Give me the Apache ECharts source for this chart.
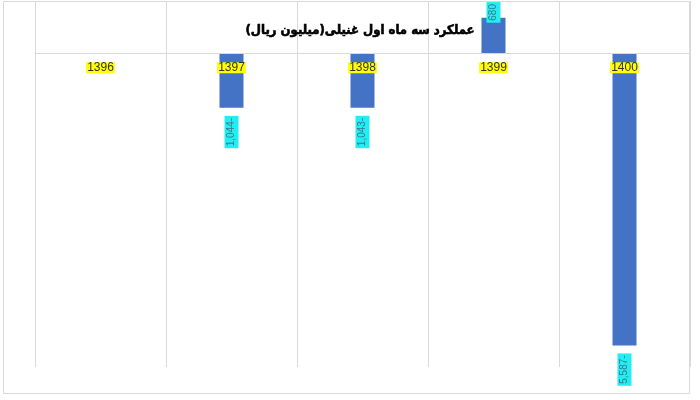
<!DOCTYPE html>
<html>
<head>
<meta charset="utf-8">
<script src="https://cdn.jsdelivr.net/npm/echarts@6/dist/echarts.min.js"></script>
<style>
html,body{margin:0;padding:0;background:#fff;}
#c{width:700px;height:400px;}
</style>
</head>
<body>
<div id="c"></div>
<script>
const categories = ['1396', '1397', '1398', '1399', '1400'];
const values = [null, -1044, -1043, 680, -5587];
const titleText = '\u200Fعملکرد سه ماه اول غنیلی(میلیون ریال)\u200F';

function fmt(v) {
  const s = Math.abs(v).toLocaleString('en-US');
  return v < 0 ? s + '-' : s;
}

const yMin = -6000, yMax = 1000;
const gridTop = 1, gridBottom = 33, H = 400;
const gridH = H - gridTop - gridBottom;
const zeroY = gridTop + gridH * (yMax / (yMax - yMin));
const axisOffset = -((H - gridBottom) - zeroY);

const labelBase = {
  show: true,
  rotate: 90,
  fontSize: 10,
  fontFamily: 'Liberation Sans, Arial, sans-serif',
  color: '#3a7a80',
  backgroundColor: '#22ECF4',
  padding: [1, 2],
  lineHeight: 12,
  formatter: p => fmt(p.value)
};

const seriesData = values.map(v => {
  if (v === null) return null;
  const neg = v < 0;
  return {
    value: v,
    label: Object.assign({}, labelBase, neg
      ? { position: 'bottom', align: 'right', verticalAlign: 'middle', distance: 8 }
      : { position: 'top', align: 'left', verticalAlign: 'middle', distance: -5 })
  };
});

const chart = echarts.init(document.getElementById('c'), null, { renderer: 'canvas' });
chart.setOption({
  animation: false,
  backgroundColor: '#fff',
  grid: { left: 35, right: 10, top: gridTop, bottom: gridBottom, containLabel: false },
  xAxis: {
    type: 'category',
    data: categories,
    boundaryGap: true,
    position: 'bottom',
    offset: axisOffset,
    z: 5,
    axisLine: { show: true, onZero: false, lineStyle: { color: '#d9d9d9', width: 1 } },
    axisTick: { show: false },
    splitLine: { show: true, lineStyle: { color: '#d9d9d9', width: 1 } },
    axisLabel: {
      margin: 9,
      fontSize: 12,
      fontFamily: 'Liberation Sans, Arial, sans-serif',
      color: '#333',
      backgroundColor: '#FFFF00',
      padding: [0, 1],
      lineHeight: 11
    }
  },
  yAxis: {
    type: 'value',
    min: yMin,
    max: yMax,
    axisLabel: { show: false },
    axisLine: { show: false },
    axisTick: { show: false },
    splitLine: { show: false }
  },
  series: [{
    type: 'bar',
    data: seriesData,
    barWidth: 24,
    z: 2,
    itemStyle: { color: '#4472C4' },
    label: labelBase
  }],
  graphic: [
    {
      type: 'rect',
      shape: { x: 3.5, y: 1.5, width: 686, height: 392 },
      style: { fill: 'none', stroke: '#d9d9d9', lineWidth: 1 },
      silent: true, z: -1
    },
    {
      type: 'text',
      x: 360, y: 31,
      style: {
        text: titleText,
        font: 'bold 13px "DejaVu Sans Condensed", "DejaVu Sans", sans-serif',
        fill: '#000',
        stroke: '#000',
        lineWidth: 0.6,
        textAlign: 'center',
        textVerticalAlign: 'middle'
      },
      z: 10
    }
  ]
});
</script>
</body>
</html>
